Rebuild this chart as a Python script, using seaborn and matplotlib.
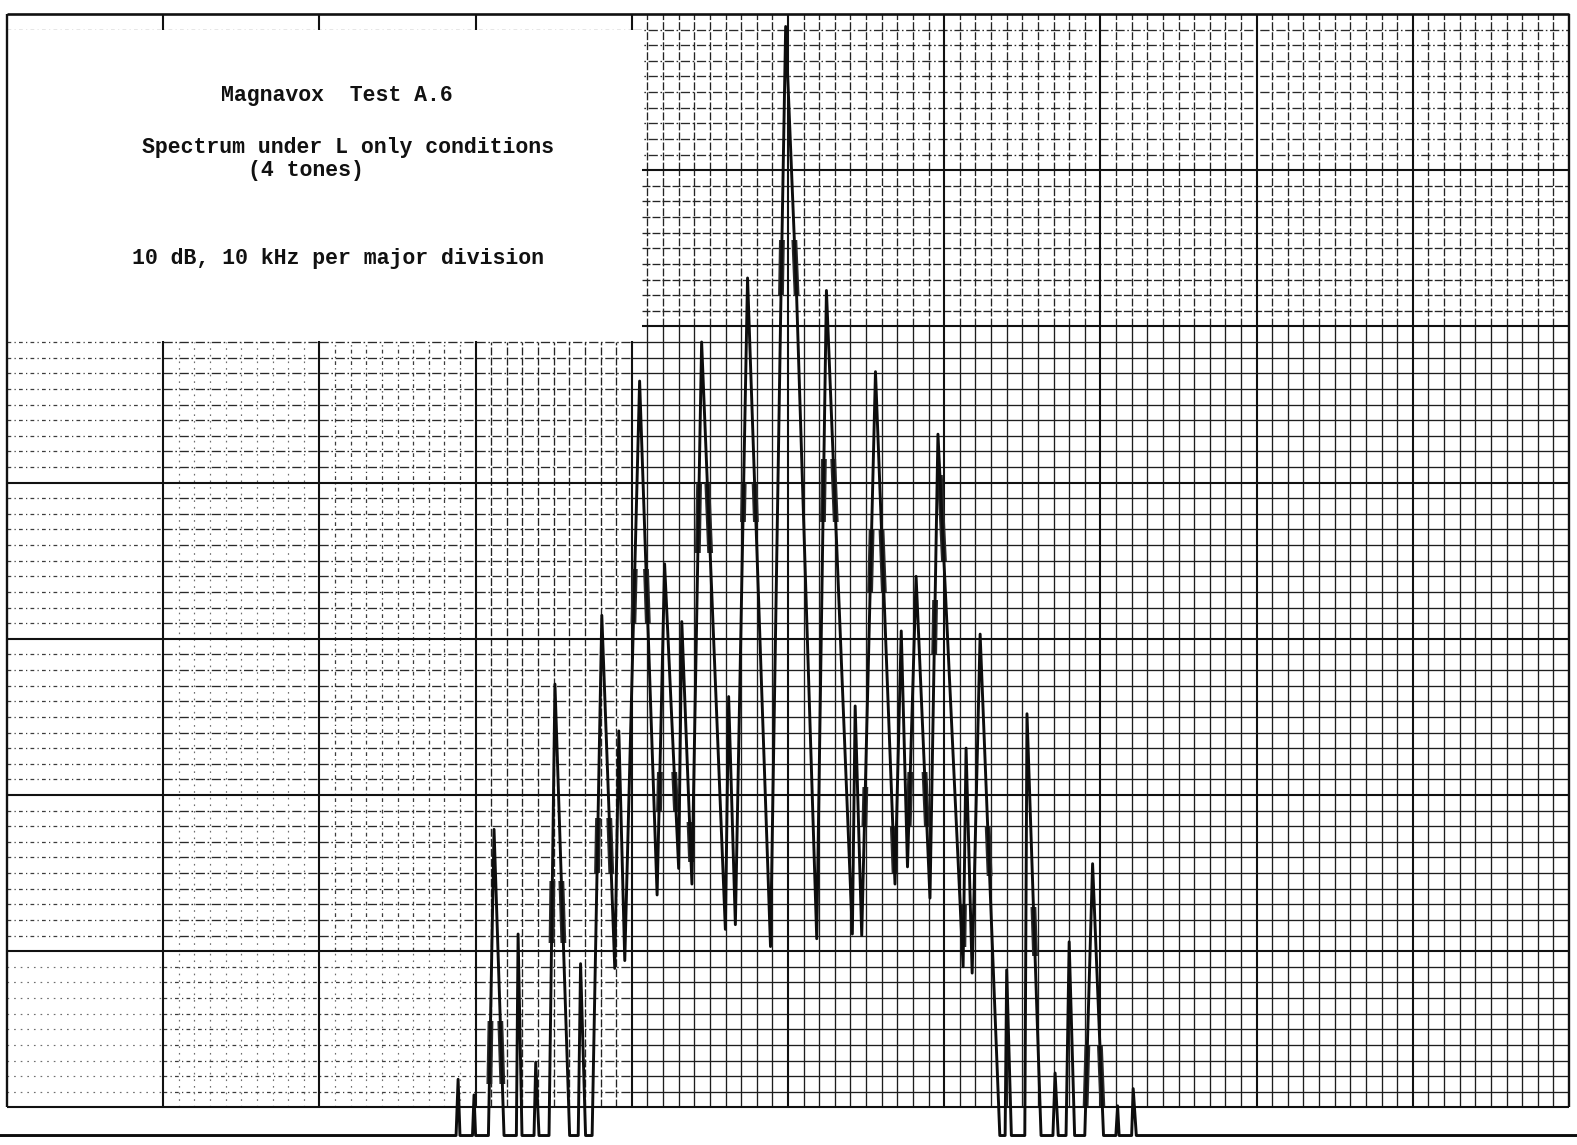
import numpy as np
import matplotlib
matplotlib.use("Agg")
import matplotlib.pyplot as plt
from matplotlib.patches import Rectangle
import seaborn as sns

sns.set_style("white")
plt.rcParams['font.family'] = ['Liberation Mono', 'DejaVu Sans Mono']

# ---------------------------------------------------------------------------
# Chart paper: 10 kHz and 10 dB per major division, 1 unit per minor division
# ---------------------------------------------------------------------------
X_MAJOR = np.arange(0, 101, 10)       # kHz
Y_MAJOR = np.arange(-70, 1, 10)       # dB
FLOOR = -71.8                          # clipped noise floor of the recorder

# Recorded trace: vertices of the pen path (kHz, dB), left to right
trace_khz = [
    -0.45,
    28.75, 28.88, 29.00,
    29.80, 29.90, 30.00,
    30.82, 31.18, 31.82,
    32.61, 32.72, 32.97,
    33.74, 33.85, 34.06,
    34.70, 35.08, 36.02,
    36.57, 36.72, 37.04,
    37.46, 38.08, 38.91,
    39.17, 39.55,
    40.50, 41.62,
    42.10, 43.00,
    43.20, 43.85,
    44.47, 45.99,
    46.20, 46.63,
    47.41, 48.88,
    49.55, 49.85, 50.55, 51.84,
    52.46, 54.12,
    54.30, 54.72,
    55.60, 56.85,
    57.25, 57.65,
    58.20, 59.09,
    59.60, 61.21,
    61.40, 61.79,
    62.30, 63.56,
    63.90, 64.00, 64.30,
    65.16, 65.30, 66.20,
    66.96, 67.10, 67.30,
    67.80, 68.00, 68.35,
    69.00, 69.50, 70.20,
    70.99, 71.10, 71.20,
    72.00, 72.10, 72.30,
    100.5,
]
F = FLOOR
trace_db = [
    F,
    F, -68.2, F,
    F, -69.2, F,
    F, -52.2, F,
    F, -58.9, F,
    F, -67.1, F,
    F, -42.9, F,
    F, -60.8, F,
    F, -38.5, -61.1,
    -45.9, -60.6,
    -23.5, -56.4,
    -35.2, -54.7,
    -38.9, -55.7,
    -21.0, -58.6,
    -43.7, -58.3,
    -16.9, -59.7,
    -18.0, -0.8, -18.0, -59.2,
    -17.7, -58.9,
    -44.3, -59.0,
    -22.9, -55.7,
    -39.5, -54.6,
    -36.0, -56.6,
    -26.9, -61.0,
    -47.0, -61.4,
    -39.7, F,
    F, -61.2, F,
    F, -44.8, F,
    F, -67.8, F,
    F, -59.4, F,
    F, -54.4, F,
    F, -69.9, F,
    F, -68.8, F,
    F,
]

# Places where the pen lingered and inked a heavier stroke:
# (peak kHz, flank, upper dB, lower dB)
shoulder_peak = [31.18, 35.08, 38.08, 40.50, 42.10, 43.20, 44.47, 47.41, 49.85,
                 52.46, 55.60, 55.60, 55.60, 58.20, 59.60, 59.60, 61.40, 62.30,
                 65.30, 69.50]
shoulder_side = ['B', 'B', 'B', 'B', 'B', 'R', 'B', 'B', 'B',
                 'B', 'B', 'L', 'R', 'B', 'L', 'R', 'L', 'R',
                 'R', 'B']
shoulder_top = [-64.5, -55.5, -51.5, -35.5, -48.5, -51.7, -30.0, -30.0, -14.5,
                -28.5, -33.0, -49.5, -52.0, -48.5, -37.5, -29.5, -57.0, -52.0,
                -57.2, -66.1]
shoulder_bot = [-68.5, -59.5, -55.0, -39.0, -51.0, -54.3, -34.5, -32.5, -18.0,
                -32.5, -37.0, -52.0, -55.0, -52.0, -41.0, -35.0, -59.7, -55.2,
                -60.3, -69.9]

note_lines = ["Magnavox  Test A.6",
              "Spectrum under L only conditions",
              "(4 tones)",
              "10 dB, 10 kHz per major division"]
note_x = [13.70, 8.64, 15.43, 8.00]
note_y = [-5.57, -8.90, -10.37, -16.00]

# ---------------------------------------------------------------------------
W, H = 1577, 1145
fig = plt.figure(figsize=(W / 100, H / 100), dpi=100)
ax = fig.add_axes([0, 0, 1, 1])
ax.set_xlim(-7 / 15.62, (W - 7) / 15.62)
ax.set_ylim(-(H - 14) / 15.62, 14 / 15.62)
ax.axis('off')

STYLES = {
    'solid':   dict(color='#1e1e1e', lw=0.95, ls='-'),
    'dash':    dict(color='#242424', lw=0.95, ls=(0, (6, 1.6))),
    'dashdot': dict(color='#2a2a2a', lw=0.95, ls=(0, (7, 2, 1.2, 2))),
    'dot':     dict(color='#3c3c3c', lw=0.9, ls=(0, (3, 2.6, 1, 2.6))),
    'faint':   dict(color='#6e6e6e', lw=0.85, ls=(0, (1.4, 4.2))),
}

# (x0, x1, y0, y1, horizontal style, vertical style)
regions = [
    (0, 10, -60, -21, 'dot', None),
    (0, 10, -70, -60, 'faint', None),
    (10, 20, -60, -21, 'dashdot', 'faint'),
    (20, 30, -60, -21, 'dashdot', 'dot'),
    (10, 30, -70, -60, 'dot', 'faint'),
    (30, 40, -70, -21, 'dashdot', 'dash'),
    (40, 100, -70, -20, 'solid', 'solid'),
    (40, 100, -20, -10, 'dash', 'dash'),
    (40, 100, -10, 0, 'dashdot', 'dash'),
]

for x0, x1, y0, y1, hs, vs in regions:
    if hs:
        ys = [v for v in range(y0, y1 + 1) if v % 10 != 0]
        if ys:
            ax.hlines(ys, x0, x1, zorder=1, **STYLES[hs])
    if vs:
        xs = [v for v in range(x0, x1 + 1) if v % 10 != 0]
        if xs:
            ax.vlines(xs, y0, y1, zorder=1, **STYLES[vs])

# major rulings
ax.vlines(X_MAJOR[1:-1], -70, 0, color='#111111', lw=1.5, zorder=2)
ax.hlines(Y_MAJOR[:-1], 0, 100, color='#111111', lw=1.5, zorder=2)
ax.hlines([-1], 0, 40, zorder=2, **STYLES['dot'])

# label card pasted over the upper-left corner of the paper
ax.add_patch(Rectangle((0.05, -20.95), 40.6, 19.95, facecolor='white',
                       edgecolor='none', zorder=3))

# paper border
ax.hlines([0], 0, 100, color='#111111', lw=1.9, zorder=4)
ax.vlines([0, 100], -70, 0, color='#111111', lw=1.7, zorder=4)

for txt, tx, ty in zip(note_lines, note_x, note_y):
    ax.text(tx, ty, txt, ha='left', va='baseline', fontsize=15.5,
            fontweight='bold', color='#111111', zorder=6)

# spectrum trace
sns.lineplot(x=trace_khz, y=trace_db, sort=False, estimator=None,
             color='#0d0d0d', lw=2.1, ax=ax, zorder=7)

# heavier pen strokes on the flanks
for pk, side, top, bot in zip(shoulder_peak, shoulder_side, shoulder_top, shoulder_bot):
    i = int(np.argmin(np.abs(np.array(trace_khz) - pk)))
    lo = i - 1 if side in ('L', 'B') else i
    hi = i + 2 if side in ('R', 'B') else i + 1
    line, = ax.plot(trace_khz[lo:hi], trace_db[lo:hi], color='#2a2a2a',
                    lw=4.2, solid_capstyle='butt', zorder=6.5)
    band = Rectangle((-1, bot), 102, top - bot, transform=ax.transData)
    line.set_clip_path(band)

fig.savefig("out.png", dpi=100, facecolor='white')
